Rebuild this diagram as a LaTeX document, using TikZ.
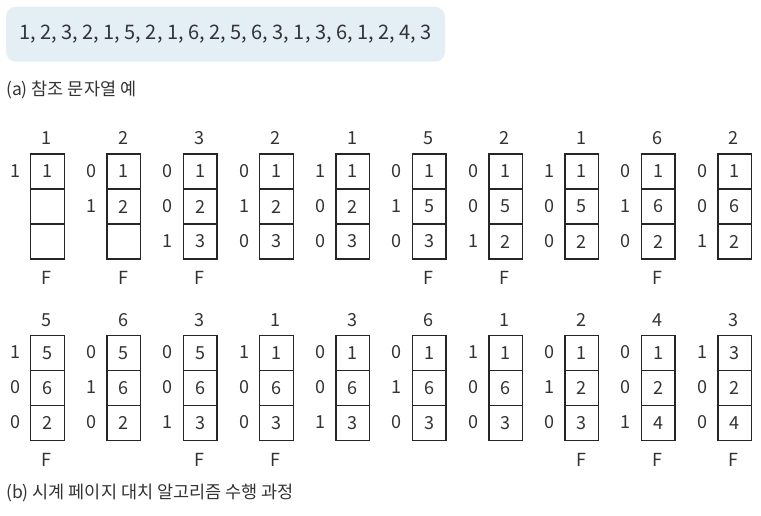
\documentclass[tikz,border=0pt]{standalone}
\usepackage{fontspec}
\setmainfont{Noto Sans CJK KR}
\definecolor{topfill}{HTML}{E4EFF5}
\definecolor{ink}{HTML}{333333}
\begin{document}
\begin{tikzpicture}[x=1pt,y=-1pt,
  cellbox/.style={draw=black!85, line width=1.4pt, minimum width=33.5pt, minimum height=35pt,
    inner sep=0pt, anchor=north west, font=\fontsize{18}{18}\selectfont, text=ink},
  lbl/.style={font=\fontsize{18}{18}\selectfont, text=ink, inner sep=0pt},
  caption/.style={font=\fontsize{17.5}{17.5}\selectfont, text=ink, inner sep=0pt, anchor=west}]
\useasboundingbox (0,0) rectangle (761,515);
\node[fill=topfill, rounded corners=10pt, minimum width=439pt, minimum height=55pt, inner sep=0pt,
  font=\fontsize{20}{20}\selectfont, text=ink] (seq) at (225.5,34.2)
  {1, 2, 3, 2, 1, 5, 2, 1, 6, 2, 5, 6, 3, 1, 3, 6, 1, 2, 4, 3};
\node[caption] (capa) at (6,90) {(a) 참조 문자열 예};
\node[caption] (capb) at (6,493) {(b) 시계 페이지 대치 알고리즘 수행 과정};
% row 1
\foreach \i/\r/\a/\b/\c/\p/\q/\s/\f in {
  0/1/1/{}/{}/1/{}/{}/F,
  1/2/1/2/{}/0/1/{}/F,
  2/3/1/2/3/0/0/1/F,
  3/2/1/2/3/0/1/0/{},
  4/1/1/2/3/1/0/0/{},
  5/5/1/5/3/0/1/0/F,
  6/2/1/5/2/0/0/1/F,
  7/1/1/5/2/1/0/0/{},
  8/6/1/6/2/0/1/0/F,
  9/2/1/6/2/0/0/1/{}} {
  \pgfmathsetmacro\L{30+76.35*\i}
  \pgfmathsetmacro\C{\L+16.75}
  \node[cellbox] (ra\i-1) at (\L,153.3) {\a};
  \node[cellbox] (ra\i-2) at (\L,188.3) {\b};
  \node[cellbox] (ra\i-3) at (\L,223.3) {\c};
  \node[lbl] (ra\i-ref) at (\C,137.8) {\r};
  \node[lbl] (ra\i-u1) at (\L-15,170.8) {\p};
  \node[lbl] (ra\i-u2) at (\L-15,205.8) {\q};
  \node[lbl] (ra\i-u3) at (\L-15,240.8) {\s};
  \node[lbl] (ra\i-f) at (\C,277.8) {\f};
}
% row 2
\foreach \i/\r/\a/\b/\c/\p/\q/\s/\f in {
  0/5/5/6/2/1/0/0/F,
  1/6/5/6/2/0/1/0/{},
  2/3/5/6/3/0/0/1/F,
  3/1/1/6/3/1/0/0/F,
  4/3/1/6/3/0/0/1/{},
  5/6/1/6/3/0/1/0/{},
  6/1/1/6/3/1/0/0/{},
  7/2/1/2/3/0/1/0/F,
  8/4/1/2/4/0/0/1/F,
  9/3/3/2/4/1/0/0/F} {
  \pgfmathsetmacro\L{30+76.35*\i}
  \pgfmathsetmacro\C{\L+16.75}
  \node[cellbox] (rb\i-1) at (\L,335) {\a};
  \node[cellbox] (rb\i-2) at (\L,370) {\b};
  \node[cellbox] (rb\i-3) at (\L,405) {\c};
  \node[lbl] (rb\i-ref) at (\C,320) {\r};
  \node[lbl] (rb\i-u1) at (\L-15,352.5) {\p};
  \node[lbl] (rb\i-u2) at (\L-15,387.5) {\q};
  \node[lbl] (rb\i-u3) at (\L-15,422.5) {\s};
  \node[lbl] (rb\i-f) at (\C,459.5) {\f};
}
\end{tikzpicture}
\end{document}
